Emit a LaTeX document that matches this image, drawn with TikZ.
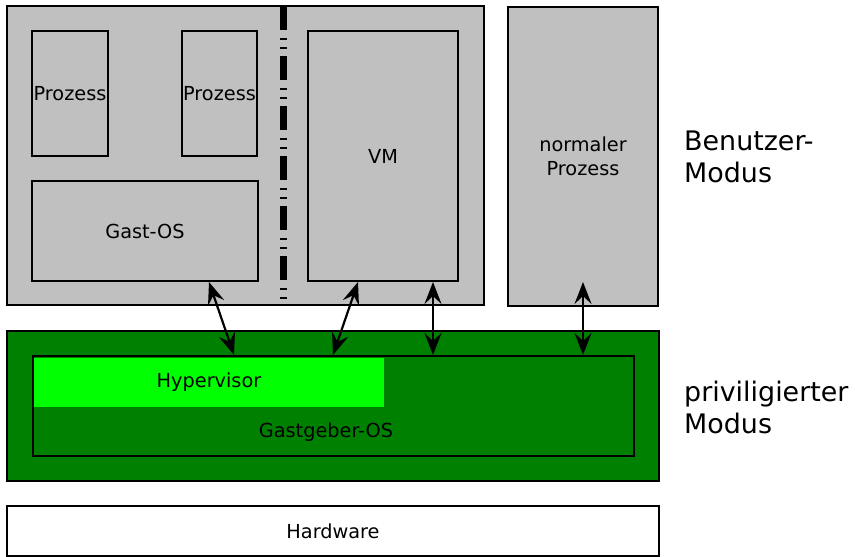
\documentclass[tikz,border=0pt]{standalone}
\usepackage{fontspec}
\setmainfont{DejaVu Sans}
\usetikzlibrary{arrows.meta}
\definecolor{boxgray}{HTML}{C0C0C0}
\definecolor{hostgreen}{HTML}{008000}
\definecolor{hypgreen}{HTML}{00FF00}
\tikzset{
  gbox/.style={draw=black, line width=2pt, fill=boxgray, rectangle},
  grbox/.style={draw=black, line width=2pt, fill=hostgreen, rectangle},
  hbox/.style={fill=hypgreen, rectangle},
  wbox/.style={draw=black, line width=2pt, fill=white, rectangle},
  modetext/.style={anchor=west, align=left, font=\fontsize{26.9}{32}\selectfont},
  tipshape/.tip={Stealth[length=22pt,width=17pt,inset=8pt]},
  conn/.style={line width=2.2pt, tipshape-tipshape},
  sep/.style={line width=7pt, dash pattern=on 24pt off 8pt on 2pt off 7pt on 2pt off 7pt}
}
\begin{document}
\begin{tikzpicture}[x=1pt,y=-1pt,
  every node/.style={inner sep=0pt, font=\fontsize{19.3}{24}\selectfont}]
\useasboundingbox (0,0) rectangle (855,557);
% user mode
\node[gbox, minimum width=477pt, minimum height=299pt] (guest) at (245.5,155.5) {};
\node[gbox, minimum width=76pt, minimum height=125pt] (p1) at (70,93.5) {Prozess};
\node[gbox, minimum width=75pt, minimum height=125pt] (p2) at (219.5,93.5) {Prozess};
\node[gbox, minimum width=226pt, minimum height=100pt] (gastos) at (145,231) {Gast-OS};
\node[gbox, minimum width=150pt, minimum height=250pt] (vm) at (383,156) {VM};
\node[gbox, minimum width=150pt, minimum height=299pt, align=center] (normal) at (583,156.5) {normaler\\Prozess};
\coordinate (sepA) at (283,6);
\coordinate (sepB) at (283,305);
\draw[sep] (sepA) -- (sepB);
% privileged mode
\node[grbox, minimum width=652pt, minimum height=150pt] (priv) at (333,406) {};
\node[grbox, minimum width=601pt, minimum height=100pt] (host) at (333.5,406) {};
\node[hbox, minimum width=350pt, minimum height=49pt] (hyp) at (209,382) {Hypervisor};
\node (hosttext) at (326,432) {Gastgeber-OS};
% hardware
\node[wbox, minimum width=652pt, minimum height=50pt] (hw) at (333,531) {Hardware};
% mode labels
\node[modetext] (umode) at (684,157) {Benutzer-\\Modus};
\node[modetext] (pmode) at (684,407) {priviligierter\\Modus};
% connectors
\coordinate (a1s) at (209,282);
\coordinate (a1e) at (234,355);
\coordinate (a2s) at (358,282);
\coordinate (a2e) at (333,355);
\coordinate (a3s) at (433,282);
\coordinate (a3e) at (433,355);
\coordinate (a4s) at (583,282);
\coordinate (a4e) at (583,355);
\draw[conn] (a1s) -- (a1e);
\draw[conn] (a2s) -- (a2e);
\draw[conn] (a3s) -- (a3e);
\draw[conn] (a4s) -- (a4e);
\end{tikzpicture}
\end{document}
